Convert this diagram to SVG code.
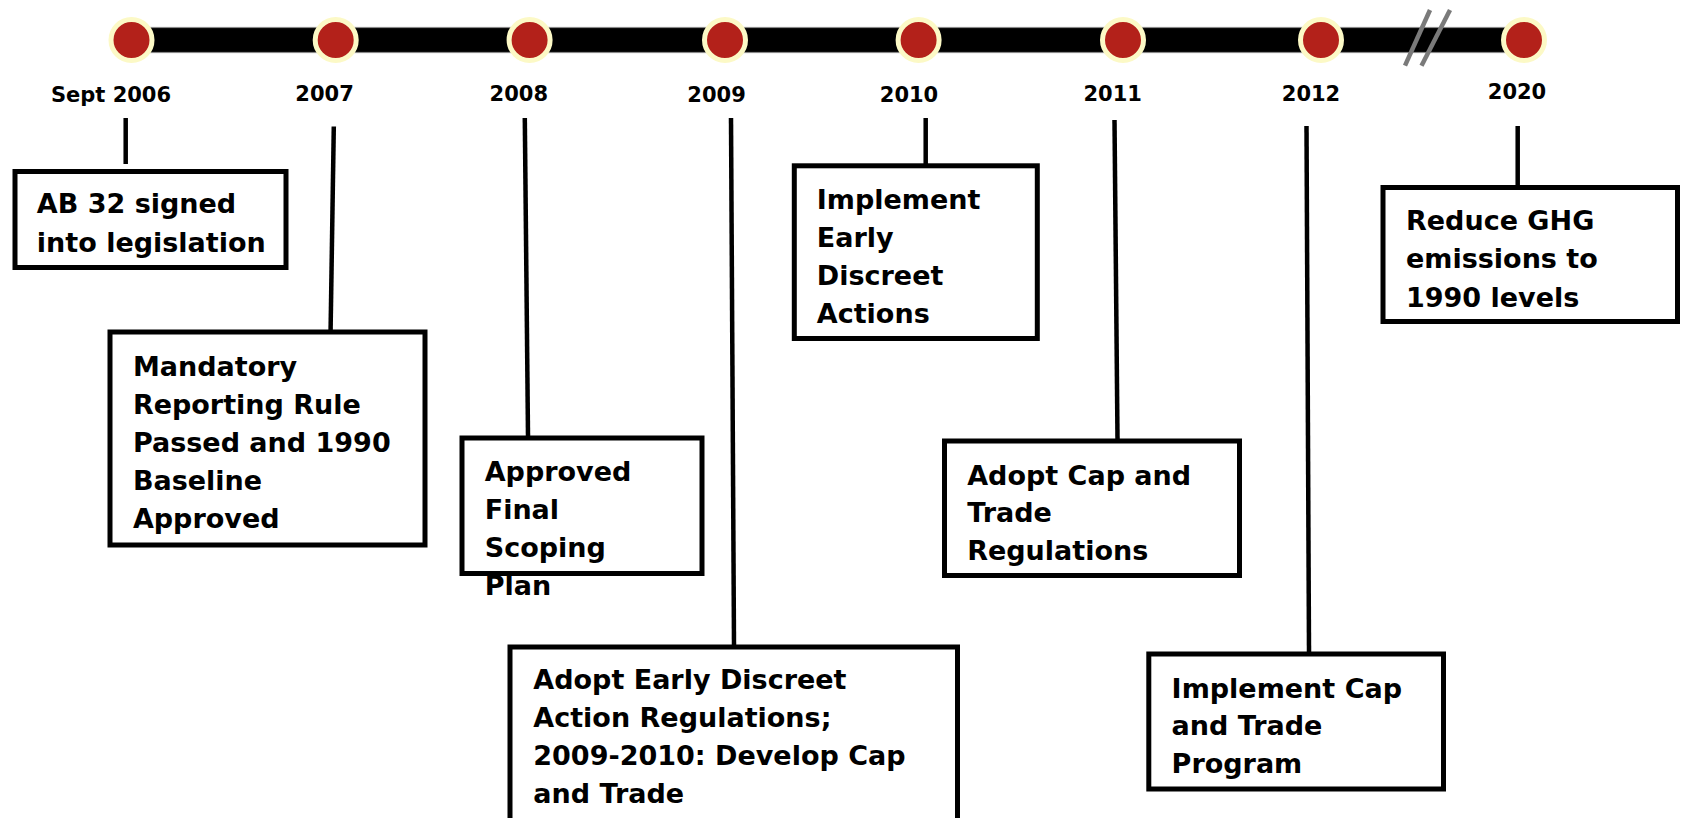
<svg xmlns="http://www.w3.org/2000/svg" width="1683" height="818" viewBox="0 0 1683 818">
<style>
.box{fill:#fff;stroke:#000;stroke-width:5}
.t{font-family:"DejaVu Sans","Liberation Sans",sans-serif;font-weight:bold;font-size:27px;fill:#000}
.yr{font-family:"DejaVu Sans","Liberation Sans",sans-serif;font-weight:bold;font-size:21px;fill:#000;text-anchor:middle}
.dot{fill:#B3211A;stroke:#FCF9C6;stroke-width:5}
.con line{stroke:#000;stroke-width:4.5}
.brk{stroke:#7a7a7a;stroke-width:4.5}
</style>
<rect width="1683" height="818" fill="#fff"/>
<g id="timeline">
<rect x="131" y="27.5" width="1393" height="25" fill="#000" stroke="#888" stroke-width="1.2"/>
<line class="brk" x1="1430" y1="10" x2="1405" y2="65.7"/>
<line class="brk" x1="1450" y1="10" x2="1421.5" y2="65.7"/>
<circle class="dot" cx="131.5" cy="40" r="20.5"/>
<circle class="dot" cx="335.7" cy="40" r="20.5"/>
<circle class="dot" cx="529.6" cy="40" r="20.5"/>
<circle class="dot" cx="725" cy="40" r="20.5"/>
<circle class="dot" cx="918.6" cy="40" r="20.5"/>
<circle class="dot" cx="1123" cy="40" r="20.5"/>
<circle class="dot" cx="1321" cy="40" r="20.5"/>
<circle class="dot" cx="1524" cy="40" r="20.5"/>
<text class="yr" x="111" y="101.5">Sept 2006</text>
<text class="yr" x="324.6" y="101">2007</text>
<text class="yr" x="518.8" y="101">2008</text>
<text class="yr" x="716.6" y="101.5">2009</text>
<text class="yr" x="909" y="101.5">2010</text>
<text class="yr" x="1112.7" y="100.7">2011</text>
<text class="yr" x="1311" y="101">2012</text>
<text class="yr" x="1517" y="99">2020</text>
</g>
<g id="connectors" class="con">
<line x1="125.7" y1="118" x2="125.7" y2="164"/>
<line x1="333.8" y1="126.5" x2="330.6" y2="330"/>
<line x1="524.8" y1="118" x2="528" y2="436"/>
<line x1="731" y1="118" x2="734" y2="645"/>
<line x1="925.7" y1="118" x2="925.7" y2="164"/>
<line x1="1114.5" y1="120" x2="1117.5" y2="439"/>
<line x1="1306.5" y1="126" x2="1309" y2="652"/>
<line x1="1517.7" y1="126" x2="1517.7" y2="186"/>
</g>
<g id="n2006">
<rect class="box" x="15" y="171.5" width="271" height="96"/>
<text class="t" x="36.8" y="213.3">AB 32 signed</text>
<text class="t" x="36.8" y="252.3">into legislation</text>
</g>
<g id="n2007">
<rect class="box" x="110" y="332" width="315" height="213"/>
<text class="t" x="132.9" y="375.7">Mandatory</text>
<text class="t" x="132.9" y="413.5">Reporting Rule</text>
<text class="t" x="132.9" y="451.7">Passed and 1990</text>
<text class="t" x="132.9" y="490">Baseline</text>
<text class="t" x="132.9" y="528.3">Approved</text>
</g>
<g id="n2008">
<rect class="box" x="462" y="438" width="240" height="135.5"/>
<text class="t" x="484.7" y="480.7">Approved</text>
<text class="t" x="484.7" y="519">Final</text>
<text class="t" x="484.7" y="556.7">Scoping</text>
<text class="t" x="484.7" y="595">Plan</text>
</g>
<g id="n2009">
<rect class="box" x="510" y="647" width="447.5" height="200"/>
<text class="t" x="533.3" y="689.3">Adopt Early Discreet</text>
<text class="t" x="533.3" y="726.7">Action Regulations;</text>
<text class="t" x="533.3" y="765">2009-2010: Develop Cap</text>
<text class="t" x="533.3" y="803.3">and Trade</text>
</g>
<g id="n2010">
<rect class="box" x="794.3" y="165.8" width="243" height="172.7"/>
<text class="t" x="816.8" y="209.3">Implement</text>
<text class="t" x="816.8" y="246.7">Early</text>
<text class="t" x="816.8" y="285">Discreet</text>
<text class="t" x="816.8" y="323.3">Actions</text>
</g>
<g id="n2011">
<rect class="box" x="944.5" y="441" width="295" height="134.5"/>
<text class="t" x="967.2" y="485">Adopt Cap and</text>
<text class="t" x="967.2" y="522.3">Trade</text>
<text class="t" x="967.2" y="560">Regulations</text>
</g>
<g id="n2012">
<rect class="box" x="1148.8" y="654" width="294.7" height="135"/>
<text class="t" x="1171.6" y="697.7">Implement Cap</text>
<text class="t" x="1171.6" y="735">and Trade</text>
<text class="t" x="1171.6" y="773.3">Program</text>
</g>
<g id="n2020">
<rect class="box" x="1383" y="187.5" width="294.5" height="134"/>
<text class="t" x="1406" y="230">Reduce GHG</text>
<text class="t" x="1406" y="268.3">emissions to</text>
<text class="t" x="1406" y="306.7">1990 levels</text>
</g>
</svg>
